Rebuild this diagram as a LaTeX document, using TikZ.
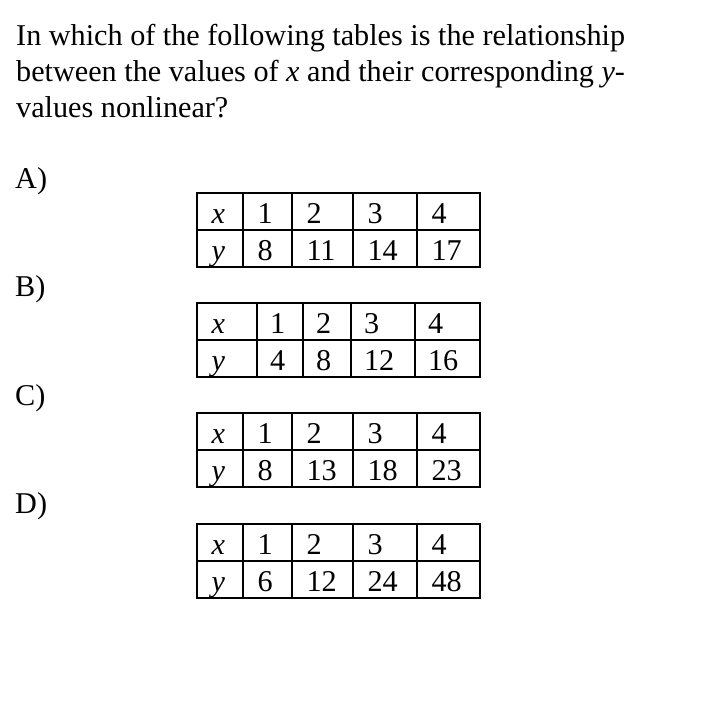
\documentclass[tikz,border=0pt]{standalone}
\usepackage{fontspec}
\setmainfont{Liberation Serif}
\usetikzlibrary{positioning}

\tikzset{
  qline/.style={anchor=base west, inner sep=0pt},
  cell/.style={draw, line width=2.7pt, inner xsep=14.5pt, inner ysep=0pt,
    text height=30pt, text depth=7pt, align=left, outer sep=0pt, anchor=north west}
}

\begin{document}
\fontsize{30.2pt}{36pt}\selectfont
\begin{tikzpicture}[x=1pt, y=1pt]
    \path[use as bounding box, fill=white] (0,0) rectangle (715,-710);

    % question
    \node[qline] (q1) at (16,-45) {In which of the following tables is the relationship};
    \node[qline] (q2) at (16,-81.5) {between the values of \textit{x} and their corresponding \textit{y}-};
    \node[qline] (q3) at (16,-117.5) {values nonlinear?};

    % choices
    \node[qline] (labA) at (15,-188) {A)};
    \node[qline] (labB) at (15,-296) {B)};
    \node[qline] (labC) at (15,-405) {C)};
    \node[qline] (labD) at (15,-513) {D)};

    % table A
    \node[cell, text width=17pt] (A-x0) at (197,-193) {\textit{x}};
    \node[cell, text width=17pt, below=0pt of A-x0] (A-y0) {\textit{y}};
    \foreach \i/\w/\a/\b [remember=\i as \j (initially 0), evaluate=\w as \tw using \w-29]
        in {1/49/1/8, 2/61/2/11, 3/64/3/14, 4/63/4/17} {
        \node[cell, text width=\tw pt, right=0pt of A-x\j] (A-x\i) {\a};
        \node[cell, text width=\tw pt, below=0pt of A-x\i] (A-y\i) {\b};
    }

    % table B
    \node[cell, text width=31pt] (B-x0) at (197,-303) {\textit{x}};
    \node[cell, text width=31pt, below=0pt of B-x0] (B-y0) {\textit{y}};
    \foreach \i/\w/\a/\b [remember=\i as \j (initially 0), evaluate=\w as \tw using \w-26]
        in {1/46/1/4, 2/48/2/8, 3/64/3/12, 4/65/4/16} {
        \node[cell, text width=\tw pt, inner xsep=13pt, right=0pt of B-x\j] (B-x\i) {\a};
        \node[cell, text width=\tw pt, inner xsep=13pt, below=0pt of B-x\i] (B-y\i) {\b};
    }

    % table C
    \node[cell, text width=17pt] (C-x0) at (197,-413) {\textit{x}};
    \node[cell, text width=17pt, below=0pt of C-x0] (C-y0) {\textit{y}};
    \foreach \i/\w/\a/\b [remember=\i as \j (initially 0), evaluate=\w as \tw using \w-29]
        in {1/49/1/8, 2/61/2/13, 3/64/3/18, 4/63/4/23} {
        \node[cell, text width=\tw pt, right=0pt of C-x\j] (C-x\i) {\a};
        \node[cell, text width=\tw pt, below=0pt of C-x\i] (C-y\i) {\b};
    }

    % table D
    \node[cell, text width=17pt] (D-x0) at (197,-524) {\textit{x}};
    \node[cell, text width=17pt, below=0pt of D-x0] (D-y0) {\textit{y}};
    \foreach \i/\w/\a/\b [remember=\i as \j (initially 0), evaluate=\w as \tw using \w-29]
        in {1/49/1/6, 2/61/2/12, 3/64/3/24, 4/63/4/48} {
        \node[cell, text width=\tw pt, right=0pt of D-x\j] (D-x\i) {\a};
        \node[cell, text width=\tw pt, below=0pt of D-x\i] (D-y\i) {\b};
    }
\end{tikzpicture}
\end{document}
